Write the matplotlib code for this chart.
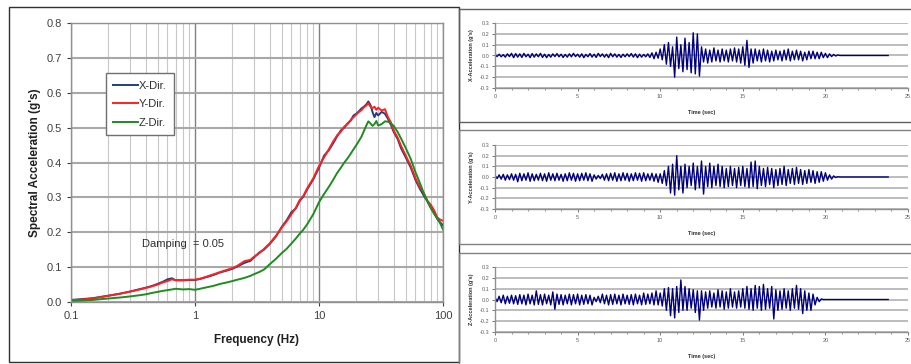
import numpy as np
import matplotlib
matplotlib.use("Agg")
import matplotlib.pyplot as plt
from matplotlib.patches import Rectangle

plt.rcParams['font.family'] = ['Liberation Sans', 'DejaVu Sans']

# ---------------- Response spectra data ----------------
freq = [0.1, 0.12, 0.15, 0.2, 0.25, 0.3, 0.35, 0.4, 0.45, 0.5, 0.55, 0.6, 0.65, 0.7, 0.8, 0.9,
        1.0, 1.1, 1.2, 1.4, 1.6, 1.8, 2.0, 2.2, 2.5, 2.8, 3.0, 3.3, 3.6, 4.0, 4.5, 5.0, 5.5,
        6.0, 6.5, 7.0, 7.5, 8.0, 9.0, 10, 11, 12, 13, 14, 15, 16, 17, 18, 19, 20, 21, 22, 23,
        24, 25, 26, 27, 28, 29, 30, 32, 34, 36, 38, 40, 43, 46, 50, 55, 60, 65, 70, 75, 80,
        85, 90, 95, 100]

sa_y = [0.005, 0.007, 0.010, 0.018, 0.024, 0.030, 0.035, 0.040, 0.045, 0.050, 0.056, 0.060,
        0.065, 0.063, 0.063, 0.064, 0.064, 0.067, 0.071, 0.079, 0.086, 0.092, 0.097, 0.104,
        0.117, 0.121, 0.130, 0.140, 0.152, 0.168, 0.190, 0.213, 0.232, 0.252, 0.270, 0.293,
        0.305, 0.325, 0.355, 0.390, 0.415, 0.438, 0.460, 0.478, 0.488, 0.503, 0.510, 0.522,
        0.530, 0.538, 0.545, 0.550, 0.558, 0.563, 0.570, 0.560, 0.556, 0.560, 0.551, 0.557,
        0.549, 0.553, 0.530, 0.515, 0.492, 0.472, 0.447, 0.420, 0.390, 0.355, 0.330, 0.312,
        0.290, 0.278, 0.262, 0.242, 0.236, 0.233]

sa_x = [0.006, 0.008, 0.011, 0.018, 0.024, 0.030, 0.036, 0.041, 0.046, 0.052, 0.058, 0.065,
        0.068, 0.062, 0.062, 0.063, 0.063, 0.066, 0.070, 0.077, 0.085, 0.090, 0.095, 0.102,
        0.112, 0.118, 0.128, 0.142, 0.150, 0.166, 0.188, 0.215, 0.235, 0.258, 0.268, 0.290,
        0.303, 0.322, 0.352, 0.385, 0.420, 0.435, 0.455, 0.475, 0.492, 0.500, 0.512, 0.520,
        0.535, 0.540, 0.547, 0.555, 0.560, 0.566, 0.575, 0.565, 0.545, 0.530, 0.542, 0.535,
        0.545, 0.540, 0.525, 0.508, 0.488, 0.468, 0.440, 0.415, 0.385, 0.350, 0.325, 0.305,
        0.288, 0.270, 0.255, 0.238, 0.228, 0.220]

sa_z = [0.003, 0.004, 0.006, 0.010, 0.013, 0.016, 0.019, 0.022, 0.026, 0.029, 0.032, 0.034,
        0.036, 0.038, 0.036, 0.037, 0.035, 0.038, 0.041, 0.046, 0.052, 0.056, 0.060, 0.064,
        0.069, 0.075, 0.080, 0.086, 0.093, 0.108, 0.124, 0.140, 0.153, 0.168, 0.182, 0.196,
        0.208, 0.222, 0.252, 0.286, 0.310, 0.330, 0.350, 0.370, 0.385, 0.400, 0.412, 0.425,
        0.438, 0.450, 0.462, 0.474, 0.490, 0.505, 0.518, 0.512, 0.505, 0.510, 0.519, 0.506,
        0.510, 0.518, 0.517, 0.512, 0.505, 0.488, 0.468, 0.442, 0.410, 0.372, 0.342, 0.312,
        0.288, 0.268, 0.252, 0.240, 0.225, 0.208]

spec_names = ['X-Dir.', 'Y-Dir.', 'Z-Dir.']
spec_colors = ['#1f3f7f', '#ff2020', '#1e8c1e']

# ---------------- Time history data (peak envelopes, g) ----------------
dt_read = 0.25
x_hi = [0.010, 0.012, 0.008, 0.015, 0.020, 0.018, 0.015, 0.020, 0.012, 0.018,
        0.015, 0.020, 0.012, 0.010, 0.015, 0.018, 0.012, 0.010, 0.015, 0.020,
        0.012, 0.015, 0.010, 0.018, 0.012, 0.020, 0.015, 0.012, 0.020, 0.015,
        0.010, 0.012, 0.015, 0.018, 0.015, 0.012, 0.010, 0.015, 0.025, 0.030,
        0.060, 0.100, 0.120, 0.080, 0.170, 0.100, 0.160, 0.120, 0.210, 0.200,
        0.080, 0.060, 0.050, 0.070, 0.050, 0.060, 0.050, 0.060, 0.070, 0.060,
        0.080, 0.140, 0.060, 0.060, 0.050, 0.060, 0.050, 0.040, 0.050, 0.040,
        0.050, 0.060, 0.040, 0.050, 0.040, 0.030, 0.040, 0.040, 0.030, 0.030,
        0.020, 0.015, 0.010, 0.005]
x_lo = [-0.010, -0.012, -0.015, -0.010, -0.020, -0.015, -0.018, -0.012, -0.020, -0.015,
        -0.012, -0.018, -0.020, -0.015, -0.010, -0.012, -0.018, -0.015, -0.012, -0.010,
        -0.015, -0.020, -0.012, -0.015, -0.018, -0.010, -0.015, -0.020, -0.012, -0.015,
        -0.018, -0.012, -0.010, -0.015, -0.020, -0.015, -0.012, -0.018, -0.030, -0.025,
        -0.040, -0.080, -0.100, -0.200, -0.120, -0.150, -0.130, -0.160, -0.170, -0.190,
        -0.060, -0.070, -0.060, -0.050, -0.060, -0.050, -0.060, -0.050, -0.060, -0.070,
        -0.090, -0.110, -0.070, -0.050, -0.060, -0.050, -0.060, -0.050, -0.040, -0.050,
        -0.040, -0.050, -0.040, -0.040, -0.050, -0.040, -0.030, -0.030, -0.030, -0.020,
        -0.020, -0.010, -0.005, 0.000]

y_hi = [0.015, 0.020, 0.025, 0.020, 0.030, 0.025, 0.035, 0.030, 0.040, 0.030,
        0.025, 0.035, 0.030, 0.040, 0.030, 0.035, 0.025, 0.030, 0.040, 0.035,
        0.030, 0.035, 0.040, 0.030, 0.020, 0.015, 0.025, 0.030, 0.035, 0.040,
        0.030, 0.040, 0.035, 0.030, 0.040, 0.035, 0.040, 0.030, 0.035, 0.030,
        0.030, 0.060, 0.100, 0.120, 0.200, 0.100, 0.120, 0.100, 0.130, 0.100,
        0.150, 0.100, 0.130, 0.100, 0.120, 0.100, 0.080, 0.100, 0.080, 0.090,
        0.100, 0.080, 0.140, 0.150, 0.100, 0.080, 0.090, 0.080, 0.070, 0.080,
        0.100, 0.070, 0.080, 0.090, 0.070, 0.060, 0.070, 0.060, 0.050, 0.050,
        0.040, 0.020, 0.010, 0.003]
y_lo = [-0.015, -0.020, -0.030, -0.025, -0.030, -0.045, -0.035, -0.030, -0.040, -0.035,
        -0.030, -0.035, -0.040, -0.030, -0.035, -0.030, -0.040, -0.035, -0.030, -0.040,
        -0.035, -0.030, -0.035, -0.040, -0.020, -0.015, -0.030, -0.035, -0.030, -0.040,
        -0.035, -0.030, -0.040, -0.035, -0.030, -0.040, -0.035, -0.030, -0.040, -0.050,
        -0.060, -0.080, -0.150, -0.170, -0.120, -0.150, -0.100, -0.080, -0.120, -0.100,
        -0.160, -0.090, -0.100, -0.080, -0.090, -0.100, -0.090, -0.080, -0.100, -0.080,
        -0.090, -0.100, -0.090, -0.110, -0.080, -0.090, -0.070, -0.100, -0.080, -0.070,
        -0.080, -0.060, -0.070, -0.060, -0.070, -0.060, -0.050, -0.060, -0.050, -0.040,
        -0.030, -0.020, -0.005, 0.000]

z_hi = [0.020, 0.030, 0.040, 0.030, 0.040, 0.035, 0.045, 0.040, 0.050, 0.040,
        0.080, 0.045, 0.050, 0.040, 0.070, 0.050, 0.045, 0.040, 0.050, 0.045,
        0.050, 0.040, 0.045, 0.040, 0.020, 0.030, 0.050, 0.040, 0.045, 0.050,
        0.040, 0.050, 0.040, 0.045, 0.050, 0.040, 0.060, 0.050, 0.060, 0.080,
        0.060, 0.100, 0.110, 0.100, 0.120, 0.180, 0.120, 0.100, 0.090, 0.080,
        0.080, 0.070, 0.080, 0.060, 0.090, 0.080, 0.070, 0.100, 0.070, 0.080,
        0.100, 0.120, 0.100, 0.130, 0.120, 0.140, 0.100, 0.120, 0.090, 0.080,
        0.100, 0.080, 0.100, 0.130, 0.100, 0.080, 0.060, 0.050, 0.020, 0.005]
z_lo = [-0.020, -0.030, -0.040, -0.035, -0.040, -0.045, -0.040, -0.050, -0.040, -0.050,
        -0.045, -0.050, -0.040, -0.050, -0.090, -0.045, -0.050, -0.040, -0.050, -0.040,
        -0.050, -0.045, -0.040, -0.050, -0.020, -0.030, -0.040, -0.050, -0.045, -0.040,
        -0.050, -0.040, -0.045, -0.050, -0.040, -0.050, -0.045, -0.040, -0.050, -0.050,
        -0.060, -0.100, -0.150, -0.170, -0.120, -0.100, -0.100, -0.080, -0.120, -0.190,
        -0.100, -0.080, -0.070, -0.080, -0.070, -0.090, -0.080, -0.070, -0.080, -0.070,
        -0.080, -0.090, -0.100, -0.080, -0.100, -0.090, -0.080, -0.180, -0.100, -0.090,
        -0.080, -0.100, -0.080, -0.090, -0.130, -0.100, -0.100, -0.050, -0.020, 0.000]

record_end = 23.8
th_labels = ["X-Acceleration (g's)", "Y-Acceleration (g's)", "Z-Acceleration (g's)"]
th_hi = [x_hi, y_hi, z_hi]
th_lo = [x_lo, y_lo, z_lo]

# ---------------- Figure ----------------
W, H = 911, 364
fig = plt.figure(figsize=(W / 100, H / 100), dpi=100)


def fr(x0, y0, x1, y1):
    """pixel box (top-left origin) -> figure fraction rect"""
    return [x0 / W, 1 - y1 / H, (x1 - x0) / W, (y1 - y0) / H]


# frames around panels
for (x0, y0, x1, y1), ec in [((9, 7, 459, 362), '#303030'),
                             ((459, 9, 912, 122), '#606060'),
                             ((459, 130, 912, 244), '#808080'),
                             ((459, 253, 912, 366), '#808080')]:
    fig.patches.append(Rectangle((x0 / W, 1 - y1 / H), (x1 - x0) / W, (y1 - y0) / H,
                                 transform=fig.transFigure, fill=False, ec=ec, lw=1.0))

# ----- Left: response spectra -----
ax = fig.add_axes(fr(71, 23, 443, 302))
ax.set_xscale('log')
ax.set_xlim(0.1, 100)
ax.set_ylim(0, 0.8)
ax.grid(True, which='minor', axis='x', color='#c8c8c8', lw=0.8)
ax.grid(True, which='major', axis='x', color='#808080', lw=1.0)
ax.grid(True, which='major', axis='y', color='#a8a8a8', lw=1.5)
ax.set_axisbelow(True)
for sp in ax.spines.values():
    sp.set_color('#909090')
    sp.set_linewidth(1.0)
for vals, name, col in zip([sa_x, sa_y, sa_z], spec_names, spec_colors):
    ax.plot(freq, vals, color=col, lw=1.4, label=name)
ax.set_xticks([0.1, 1, 10, 100])
ax.set_xticklabels(['0.1', '1', '10', '100'])
ax.set_yticks(np.arange(0, 0.81, 0.1))
ax.set_yticklabels(['%.1f' % v for v in np.arange(0, 0.81, 0.1)])
ax.tick_params(axis='both', labelsize=8, colors='#404040', length=3, width=0.8)
ax.tick_params(axis='x', which='minor', length=0)
ax.set_xlabel('Frequency (Hz)', fontsize=8.5, fontweight='bold', color='#202020', labelpad=9)
ax.set_ylabel("Spectral Acceleration (g's)", fontsize=8.5, fontweight='bold', color='#202020',
              labelpad=4)
leg = ax.legend(loc='upper left', bbox_to_anchor=(0.078, 0.84), fontsize=8, frameon=True,
                fancybox=False, edgecolor='#707070', handlelength=2.2, handletextpad=0.1,
                borderpad=0.7, labelspacing=0.75, framealpha=1)
leg.get_frame().set_linewidth(1.0)
for t in leg.get_texts():
    t.set_color('#303030')
ax.text(0.19, 0.197, 'Damping  = 0.05', transform=ax.transAxes, fontsize=8, color='#303030')

# ----- Right: time histories -----
th_boxes = [(495, 23, 908, 88), (495, 145, 908, 209), (495, 267, 908, 332)]
for (x0, y0, x1, y1), hi, lo, lab in zip(th_boxes, th_hi, th_lo, th_labels):
    a = fig.add_axes(fr(x0, y0, x1, y1))
    t = np.arange(len(hi)) * dt_read
    xs = np.empty(2 * len(hi))
    ys = np.empty(2 * len(hi))
    xs[0::2] = t
    xs[1::2] = t + dt_read / 2
    ys[0::2] = hi
    ys[1::2] = lo
    xs = np.append(xs, [xs[-1] + dt_read / 2, record_end])
    ys = np.append(ys, [0.0, 0.0])
    a.plot(xs, ys, color='#00007f', lw=1.0)
    a.set_xlim(0, 25)
    a.set_ylim(-0.3, 0.3)
    a.set_yticks(np.arange(-0.3, 0.31, 0.1))
    a.set_yticklabels(['%.1f' % v for v in np.arange(-0.3, 0.31, 0.1)])
    a.set_xticks([0, 5, 10, 15, 20, 25])
    a.set_xticks(np.arange(0, 26, 1), minor=True)
    a.grid(True, axis='y', color='#b8b8b8', lw=1.3)
    a.set_axisbelow(True)
    a.spines['top'].set_visible(False)
    a.spines['right'].set_visible(False)
    for s in ('left', 'bottom'):
        a.spines[s].set_color('#909090')
        a.spines[s].set_linewidth(1.0)
    a.tick_params(axis='both', labelsize=4, colors='#606060', length=2, width=0.6, pad=2)
    a.tick_params(axis='x', which='minor', length=1.5, width=0.6, colors='#808080')
    a.set_xlabel('Time (sec)', fontsize=4, fontweight='bold', color='#303030', labelpad=8)
    a.set_ylabel(lab, fontsize=4, fontweight='bold', color='#303030', labelpad=4)

fig.savefig('out.png', dpi=100)
